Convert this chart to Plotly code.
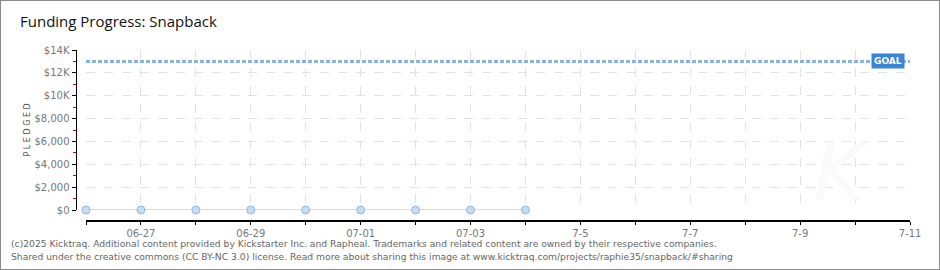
import plotly.graph_objects as go

W, H = 940, 270

# ---- data ----
dates = ["2025-06-26", "2025-06-27", "2025-06-28", "2025-06-29", "2025-06-30",
         "2025-07-01", "2025-07-02", "2025-07-03", "2025-07-04"]
pledged = [0, 0, 0, 0, 0, 0, 0, 0, 0]
goal = 13000
goal_x = ["2025-06-26", "2025-07-11 01:00"]

x_tick_vals = ["2025-06-26", "2025-06-27", "2025-06-28", "2025-06-29", "2025-06-30",
               "2025-07-01", "2025-07-02", "2025-07-03", "2025-07-04", "2025-07-05",
               "2025-07-06", "2025-07-07", "2025-07-08", "2025-07-09", "2025-07-10",
               "2025-07-11"]
x_tick_text = ["", "06-27", "", "06-29", "", "07-01", "", "07-03", "", "7-5",
               "", "7-7", "", "7-9", "", "7-11"]
y_tick_vals = [0, 2000, 4000, 6000, 8000, 10000, 12000, 14000]
y_tick_text = ["$0", "$2,000", "$4,000", "$6,000", "$8,000", "$10K", "$12K", "$14K"]
y_minor_vals = [1000, 3000, 5000, 7000, 9000, 11000, 13000]

footer1 = ("(c)2025 Kicktraq. Additional content provided by Kickstarter Inc. and Rapheal. "
           "Trademarks and related content are owned by their respective companies.")
footer2 = ("Shared under the creative commons (CC BY-NC 3.0) license. Read more about sharing "
           "this image at www.kicktraq.com/projects/raphie35/snapback/#sharing")

fig = go.Figure()

fig.add_trace(go.Scatter(
    x=goal_x, y=[goal, goal], mode="lines",
    line=dict(color="#86b3e6", width=3, dash="4px,2px"),
    hoverinfo="skip", showlegend=False, cliponaxis=False,
))

fig.add_trace(go.Scatter(
    x=dates, y=pledged, mode="lines+markers",
    line=dict(color="#b4d2f2", width=1.5),
    marker=dict(size=8, color="#c6dcf6", line=dict(color="#97b5dc", width=1)),
    showlegend=False, cliponaxis=False,
))

tick_font = dict(family="DejaVu Sans", size=10, color="#777777")

fig.update_layout(
    width=W, height=H,
    margin=dict(l=0, r=0, t=0, b=0, autoexpand=False),
    paper_bgcolor="white", plot_bgcolor="white",
    showlegend=False,
    title=dict(text="Funding Progress: Snapback", x=20 / W, xanchor="left",
               y=1 - 22 / H, yanchor="middle", automargin=False,
               font=dict(family="Open Sans", size=15, color="#111111")),
    xaxis=dict(
        domain=[86 / W, 910 / W], range=["2025-06-26", "2025-07-11"],
        anchor="free", position=49 / H, automargin=False,
        tickmode="array", tickvals=x_tick_vals, ticktext=x_tick_text,
        ticks="outside", ticklen=3, tickwidth=1, tickcolor="#000000",
        showline=True, linecolor="#000000", linewidth=1.5,
        showgrid=True, gridcolor="#e2e2e2", griddash="dash", gridwidth=1,
        zeroline=False, tickfont=tick_font, tickangle=0,
    ),
    yaxis=dict(
        domain=[60 / H, 220 / H], range=[0, 14000],
        anchor="free", position=75.5 / W, automargin=False,
        tickmode="array", tickvals=y_tick_vals, ticktext=y_tick_text,
        ticks="outside", ticklen=4, tickwidth=1, tickcolor="#000000",
        showline=True, linecolor="#000000", linewidth=1,
        showgrid=True, gridcolor="#e2e2e2", griddash="dash", gridwidth=1,
        zeroline=False, tickfont=tick_font,
        minor=dict(tickmode="array", tickvals=y_minor_vals, ticks="outside",
                   ticklen=3, tickwidth=1, tickcolor="#dd0000", showgrid=False),
    ),
    shapes=[dict(type="rect", xref="paper", yref="paper", x0=0, y0=0, x1=1, y1=1,
                 line=dict(color="#8a8a8a", width=2), fillcolor="rgba(0,0,0,0)",
                 layer="above")],
)

fig.add_annotation(text="K", xref="paper", yref="paper", x=873 / W, y=1 - 172 / H,
                   showarrow=False,
                   font=dict(family="DejaVu Sans", size=80, color="#fafafa", style="italic"))

fig.add_annotation(text="GOAL", xref="paper", yref="y", x=905 / W, y=goal,
                   xanchor="right", yanchor="middle", showarrow=False,
                   font=dict(family="DejaVu Sans", size=9, color="white", weight="bold"),
                   bgcolor="#3a86d6", borderpad=2)

fig.add_annotation(text="P L E D G E D", xref="paper", yref="paper", x=21 / W, y=1 - 130 / H,
                   textangle=-90, showarrow=False,
                   font=dict(family="DejaVu Sans", size=8, color="#555555"))

fig.add_annotation(text=footer1, xref="paper", yref="paper", x=9 / W, y=1 - 243 / H,
                   xanchor="left", yanchor="middle", showarrow=False,
                   font=dict(family="DejaVu Sans", size=9.2, color="#666666"))
fig.add_annotation(text=footer2, xref="paper", yref="paper", x=9 / W, y=1 - 256 / H,
                   xanchor="left", yanchor="middle", showarrow=False,
                   font=dict(family="DejaVu Sans", size=9.2, color="#666666"))

fig.write_html("out.html")
